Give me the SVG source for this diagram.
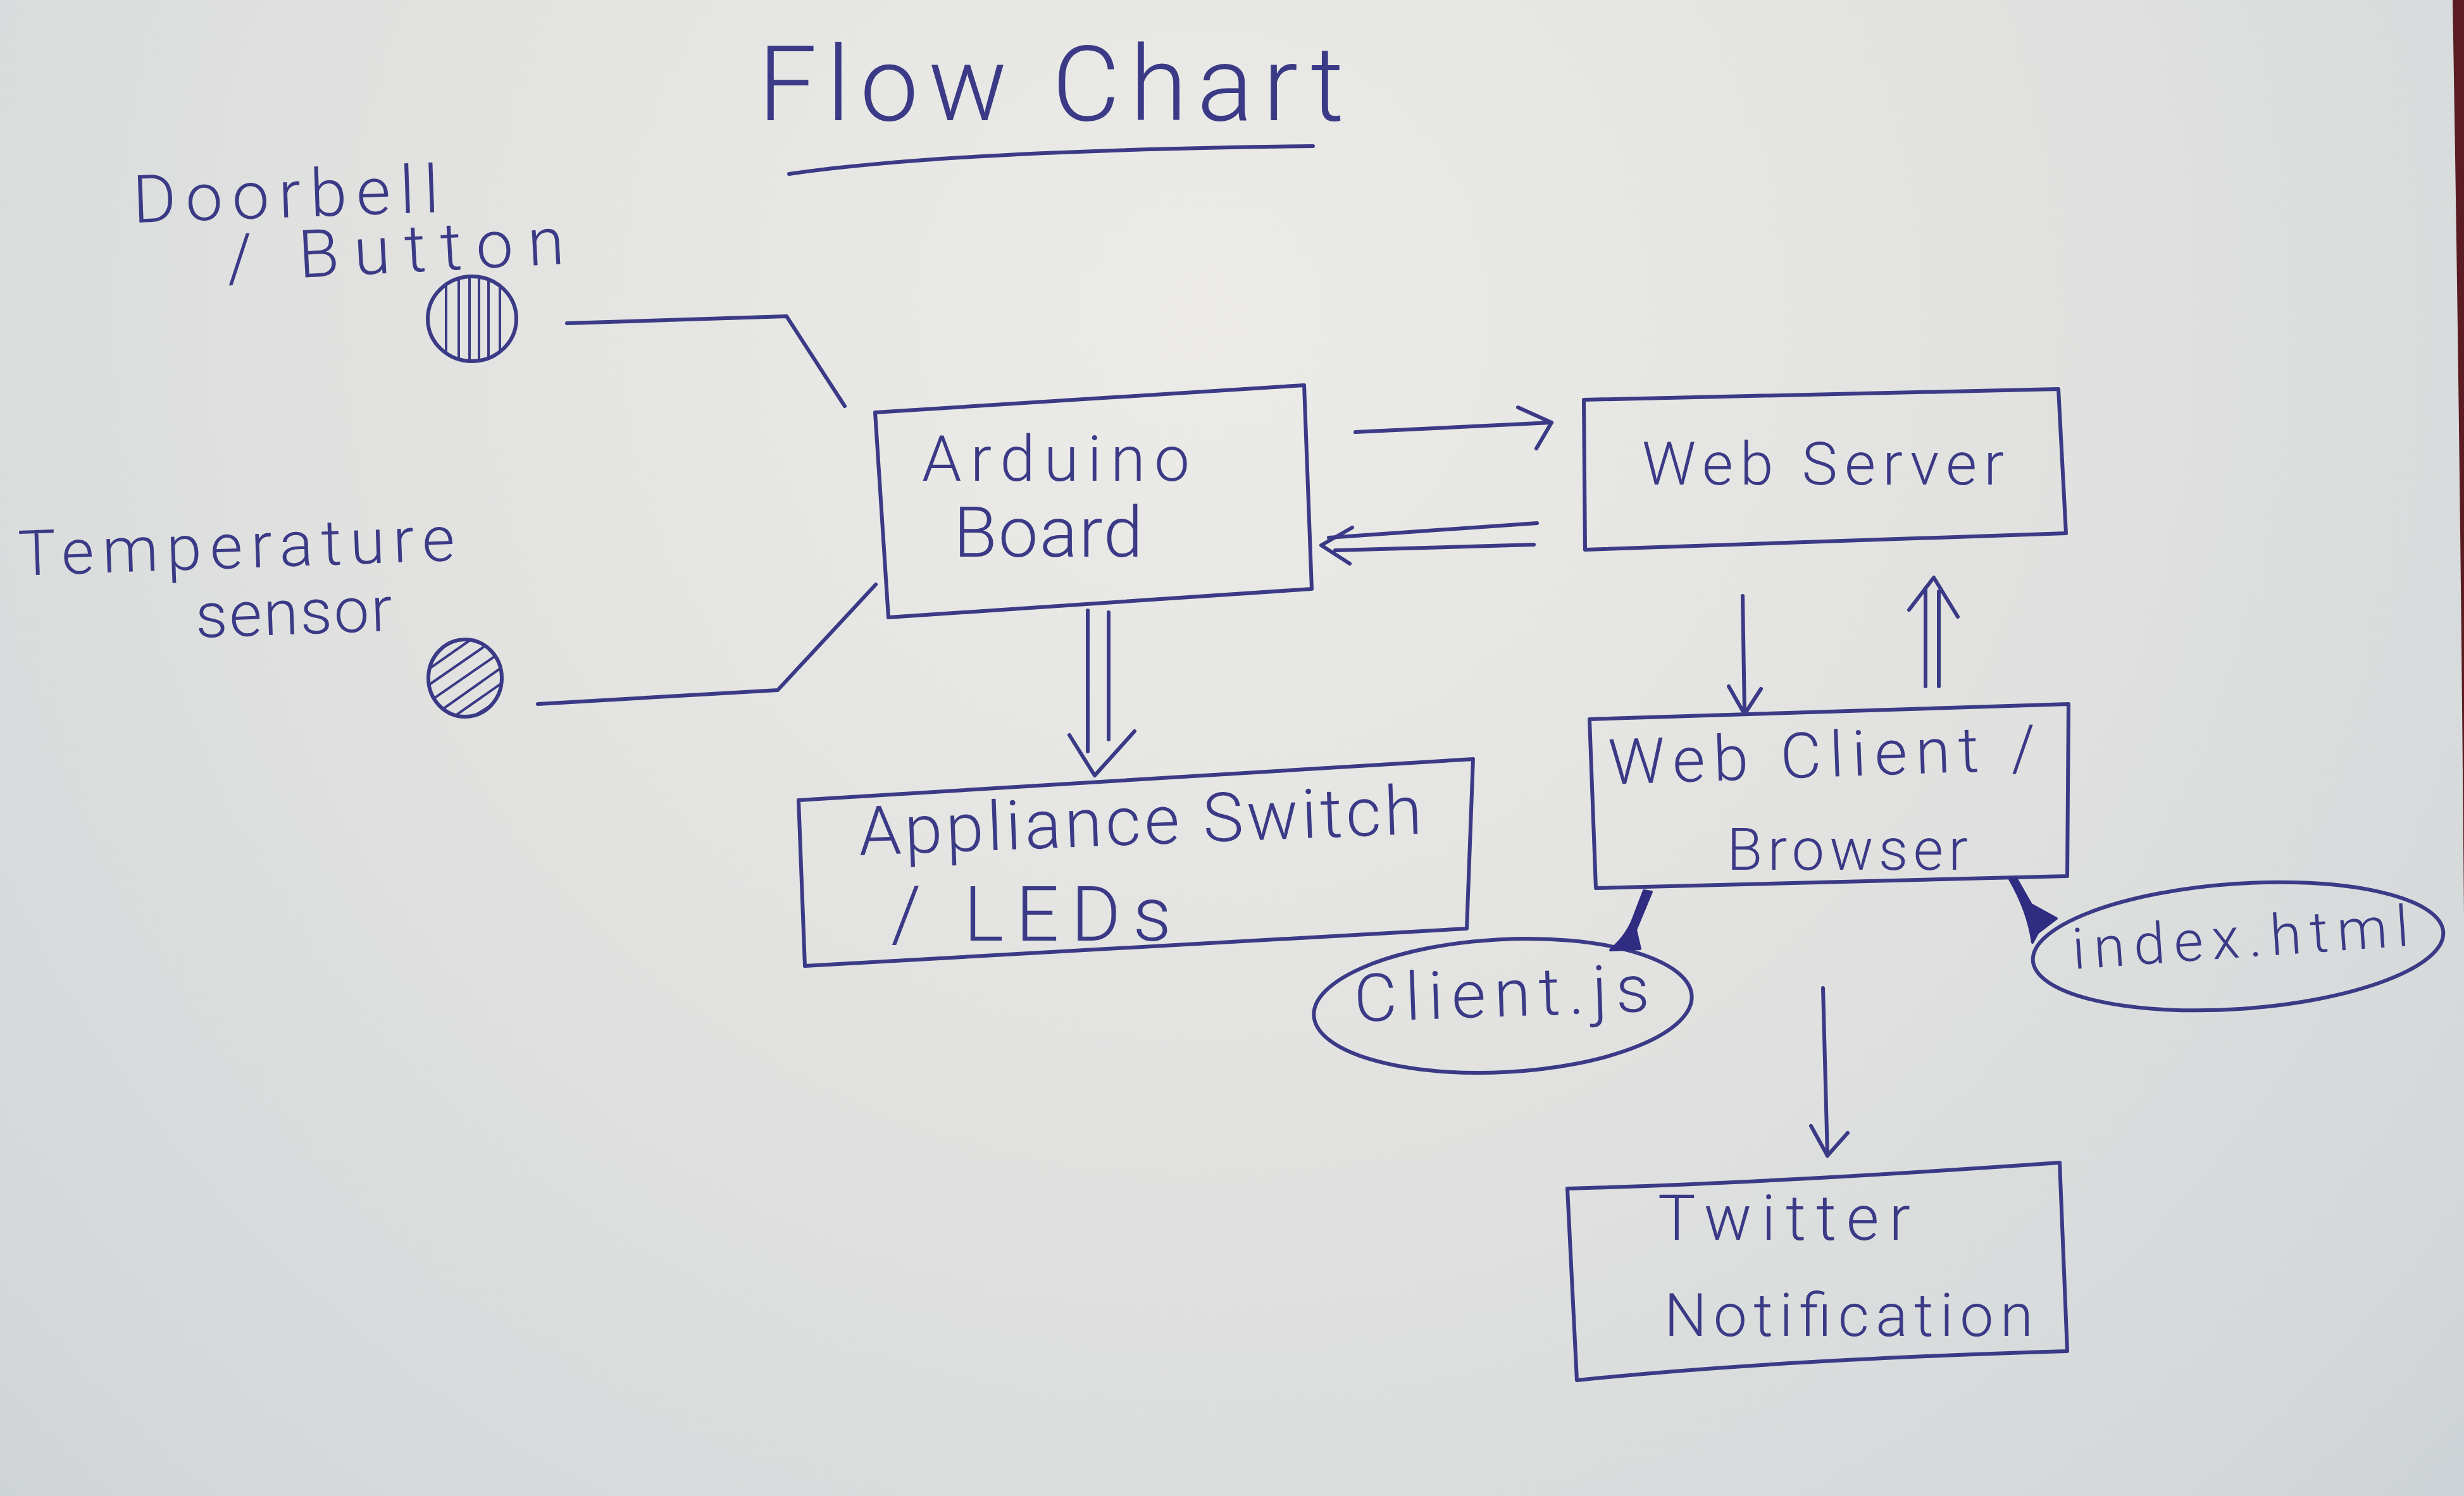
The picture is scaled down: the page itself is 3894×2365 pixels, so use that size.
<svg xmlns="http://www.w3.org/2000/svg" width="3894" height="2365" viewBox="0 0 3894 2365">
<defs>
<radialGradient id="paper" cx="1900" cy="500" r="3000" gradientUnits="userSpaceOnUse">
<stop offset="0" stop-color="#ecebe8"/>
<stop offset="0.45" stop-color="#e1e2e0"/>
<stop offset="0.8" stop-color="#d4d8da"/>
<stop offset="1" stop-color="#c8ced4"/>
</radialGradient>
<clipPath id="c1"><ellipse cx="746" cy="504" rx="70" ry="67"/></clipPath>
<clipPath id="c2"><ellipse cx="735" cy="1072" rx="58" ry="61"/></clipPath>
</defs>
<style>
.ink{fill:none;stroke:#3b3a86;stroke-width:6;stroke-linecap:round;stroke-linejoin:round}
.thin{fill:none;stroke:#3b3a86;stroke-width:4;stroke-linecap:round}
.blob{fill:#2f2c82;stroke:#2f2c82;stroke-width:4;stroke-linejoin:round}
.t{font-family:Roboto,"Liberation Sans","DejaVu Sans",sans-serif;font-weight:300;fill:#3b3a86}
</style>
<rect x="0" y="0" width="3894" height="2365" fill="url(#paper)"/>
<path d="M3876,0H3894V1450Q3888,700 3876,0Z" fill="#5a1c22"/>

<g id="title">
<text class="t" x="1198" y="190" font-size="165" textLength="926" lengthAdjust="spacing">Flow Chart</text>
<path class="ink" d="M1247,275 Q1500,238 2075,231"/>
</g>

<g id="doorbell">
<text class="t" x="211" y="352" font-size="105" textLength="484" lengthAdjust="spacing" transform="rotate(-2 211 352)">Doorbell</text>
<text class="t" x="360" y="445" font-size="105" textLength="534" lengthAdjust="spacing" transform="rotate(-3 360 445)">/ Button</text>
<ellipse class="ink" cx="746" cy="504" rx="70" ry="67"/>
<g clip-path="url(#c1)" class="thin">
<path d="M705,430V580M725,430V580M742,430V580M757,430V580M772,430V580M790,430V580"/>
</g>
</g>

<g id="temperature">
<text class="t" x="30" y="910" font-size="100" textLength="690" lengthAdjust="spacing" transform="rotate(-2 30 910)">Temperature</text>
<text class="t" x="310" y="1008" font-size="100" textLength="311" lengthAdjust="spacing" transform="rotate(-2 310 1008)">sensor</text>
<ellipse class="ink" cx="735" cy="1072" rx="58" ry="61"/>
<g clip-path="url(#c2)" class="thin">
<path d="M660,1070L760,1000M660,1095L790,1005M670,1115L800,1025M680,1135L800,1050M700,1145L800,1075M720,1150L800,1100"/>
</g>
</g>

<g id="arduino">
<path class="ink" d="M1383,652L2061,609L2073,931L1404,976Z"/>
<text class="t" x="1457" y="760" font-size="100" textLength="423" lengthAdjust="spacing">Arduino</text>
<text class="t" x="1507" y="880" font-size="112" textLength="299" lengthAdjust="spacing">Board</text>
</g>

<g id="webserver">
<path class="ink" d="M2503,632L3253,615L3265,843L2505,869Z"/>
<text class="t" x="2595" y="766" font-size="95" textLength="572" lengthAdjust="spacing">Web Server</text>
</g>

<g id="appliance">
<path class="ink" d="M1262,1265L2328,1200L2318,1468L1272,1527Z"/>
<text class="t" x="1358" y="1352" font-size="108" textLength="891" lengthAdjust="spacing" transform="rotate(-2.2 1358 1352)">Appliance Switch</text>
<text class="t" x="1408" y="1487" font-size="120" textLength="443" lengthAdjust="spacing">/ LEDs</text>
</g>

<g id="webclient">
<path class="ink" d="M2512,1137L3269,1113L3267,1385L2522,1404Z"/>
<text class="t" x="2543" y="1240" font-size="100" textLength="676" lengthAdjust="spacing" transform="rotate(-2 2543 1240)">Web Client /</text>
<text class="t" x="2729" y="1375" font-size="92" textLength="381" lengthAdjust="spacing">Browser</text>
</g>

<g id="clientjs">
<ellipse class="ink" cx="2375" cy="1590" rx="299" ry="105" transform="rotate(-3 2375 1590)"/>
<text class="t" x="2141" y="1615" font-size="105" textLength="467" lengthAdjust="spacing" transform="rotate(-2 2141 1615)">Client.js</text>
</g>

<g id="indexhtml">
<ellipse class="ink" cx="3537" cy="1496" rx="325" ry="99" transform="rotate(-4 3537 1496)"/>
<text class="t" x="3277" y="1532" font-size="90" textLength="533" lengthAdjust="spacing" transform="rotate(-4 3277 1532)">index.html</text>
</g>

<g id="twitter">
<path class="ink" d="M2477,1879Q2800,1870 3255,1838L3267,2136Q2800,2150 2492,2182Z"/>
<text class="t" x="2620" y="1960" font-size="100" textLength="399" lengthAdjust="spacing">Twitter</text>
<text class="t" x="2630" y="2112" font-size="95" textLength="583" lengthAdjust="spacing">Notification</text>
</g>

<g id="connectors">
<polyline class="ink" points="896,511 1243,500 1335,642"/>
<polyline class="ink" points="850,1113 1229,1091 1384,924"/>
<line class="ink" x1="2142" y1="683" x2="2452" y2="668"/>
<polyline class="ink" points="2399,644 2452,668 2428,709"/>
<line class="ink" x1="2429" y1="827" x2="2100" y2="850"/>
<line class="ink" x1="2424" y1="861" x2="2110" y2="870"/>
<polyline class="ink" points="2137,834 2088,862 2133,891"/>
<line class="ink" x1="1719" y1="965" x2="1719" y2="1188"/>
<line class="ink" x1="1752" y1="968" x2="1752" y2="1169"/>
<polyline class="ink" points="1690,1162 1730,1226 1793,1156"/>
<line class="ink" x1="2754" y1="942" x2="2757" y2="1129"/>
<polyline class="ink" points="2732,1085 2757,1129 2783,1089"/>
<line class="ink" x1="3043" y1="1085" x2="3043" y2="930"/>
<line class="ink" x1="3064" y1="1085" x2="3064" y2="935"/>
<polyline class="ink" points="3017,964 3056,913 3094,975"/>
<line class="ink" x1="2881" y1="1562" x2="2888" y2="1827"/>
<polyline class="ink" points="2862,1780 2888,1827 2920,1791"/>
<path class="blob" d="M2598,1408L2610,1410L2585,1470L2592,1500L2545,1502Q2570,1480 2580,1455Z"/>
<path class="blob" d="M3176,1390L3186,1388L3210,1430L3250,1452L3220,1475L3212,1490Q3205,1440 3176,1390Z"/>
</g>
</svg>
